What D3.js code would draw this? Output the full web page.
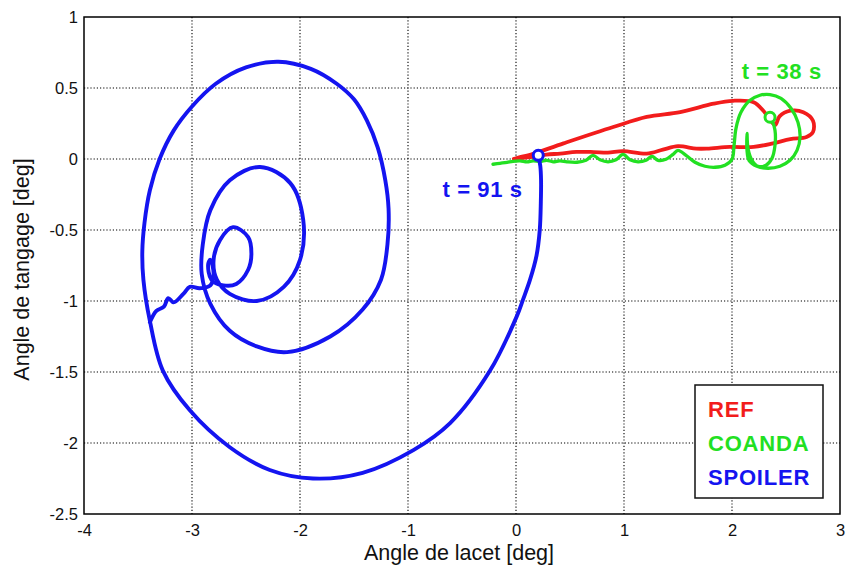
<!DOCTYPE html>
<html>
<head>
<meta charset="utf-8">
<script src="https://cdn.jsdelivr.net/npm/d3@7"></script>
<style>
  html, body { margin: 0; padding: 0; background: #fff; }
  svg { display: block; font-family: "Liberation Sans", Arial, sans-serif; }
</style>
</head>
<body>
<svg id="chart" width="846" height="576"></svg>
<script>
// ---------------- DATA ----------------
const xTicks = [-4, -3, -2, -1, 0, 1, 2, 3];
const xTickLabels = ["-4", "-3", "-2", "-1", "0", "1", "2", "3"];
const yTicks = [-2.5, -2, -1.5, -1, -0.5, 0, 0.5, 1];
const yTickLabels = ["-2.5", "-2", "-1.5", "-1", "-0.5", "0", "0.5", "1"];

const seriesNames = ["REF", "COANDA", "SPOILER"];
const seriesColors = ["#f21c1c", "#22e022", "#1414f0"];

// REF trajectory [lacet, tangage]
const refPath = [
  [-0.02,0.0],[0.03,0.012],[0.13,0.03],[0.44,0.11],[0.90,0.225],[1.21,0.296],[1.52,0.33],
  [1.83,0.39],[2.01,0.41],[2.20,0.40],[2.29,0.34],[2.35,0.28],[2.40,0.24],[2.44,0.30],
  [2.54,0.34],[2.66,0.33],[2.75,0.27],[2.75,0.19],[2.69,0.155],[2.54,0.14],[2.38,0.11],
  [2.20,0.085],[1.98,0.085],[1.77,0.073],[1.67,0.073],[1.50,0.09],[1.36,0.066],[1.21,0.038],
  [0.99,0.056],[0.85,0.045],[0.72,0.049],[0.56,0.05],[0.41,0.038],[0.28,0.031],[0.13,0.014],
  [0.03,0.005],[-0.02,0.0]
];

// COANDA trajectory
const coandaPath = [
  [-0.213,-0.037],[-0.148,-0.030],[-0.083,-0.023],[-0.028,-0.016],[0.037,-0.013],[0.102,-0.020],
  [0.157,-0.013],[0.222,-0.016],[0.287,-0.009],[0.343,-0.020],[0.407,-0.013],[0.472,-0.020],
  [0.565,-0.023],[0.648,-0.009],[0.713,0.026],[0.778,-0.006],[0.852,-0.020],[0.926,-0.006],
  [0.991,0.033],[1.056,-0.006],[1.130,-0.020],[1.204,-0.009],[1.259,0.019],[1.315,-0.009],
  [1.389,-0.002],[1.454,0.033],[1.50,0.061],[1.574,0.026],[1.657,-0.023],[1.75,-0.051],
  [1.843,-0.058],[1.935,-0.044],[2.0,-0.002],[2.019,0.096],[2.037,0.216],[2.083,0.329],
  [2.167,0.413],[2.259,0.449],[2.352,0.454],[2.454,0.427],[2.546,0.357],[2.611,0.258],
  [2.63,0.153],[2.602,0.061],[2.537,-0.009],[2.444,-0.051],[2.333,-0.065],[2.231,-0.051],
  [2.157,-0.009],[2.139,0.061],[2.139,0.181],[2.148,0.075],[2.185,-0.009],[2.241,-0.051],
  [2.315,-0.044],[2.370,0.005],[2.398,0.096],[2.398,0.202],[2.370,0.273],[2.352,0.294]
];

// SPOILER trajectory
const spoilerPath = [
  [0.206,0.026],[0.225,-0.05],[0.232,-0.15],[0.23,-0.3],[0.22,-0.5],[0.19,-0.68],[0.13,-0.85],
  [0.065,-0.99],[0.006,-1.11],[-0.24,-1.49],[-0.61,-1.86],[-0.95,-2.05],[-1.42,-2.21],[-1.88,-2.25],
  [-2.28,-2.19],[-2.65,-2.03],[-3.02,-1.77],[-3.27,-1.49],[-3.39,-1.14],[-3.45,-0.85],
  [-3.46,-0.65],[-3.44,-0.45],[-3.39,-0.22],[-3.30,0.0],[-3.17,0.20],[-3.0,0.37],[-2.78,0.53],
  [-2.5,0.645],[-2.2,0.685],[-1.9,0.635],[-1.66,0.53],[-1.5,0.42],[-1.38,0.27],[-1.28,0.08],
  [-1.21,-0.15],[-1.18,-0.35],[-1.19,-0.6],[-1.25,-0.85],[-1.42,-1.06],[-1.72,-1.25],
  [-2.12,-1.36],[-2.40,-1.32],[-2.65,-1.21],[-2.83,-1.02],
  [-2.91,-0.81],[-2.9,-0.6],[-2.83,-0.36],[-2.65,-0.15],[-2.37,-0.056],[-2.09,-0.17],
  [-1.97,-0.43],[-2.0,-0.71],[-2.15,-0.9],[-2.4,-1.0],[-2.65,-0.95],[-2.77,-0.85],[-2.8,-0.71],
  [-2.74,-0.57],[-2.62,-0.48],[-2.48,-0.55],[-2.45,-0.67],[-2.48,-0.78],[-2.59,-0.88],
  [-2.71,-0.89],[-2.82,-0.85],[-2.85,-0.74],[-2.83,-0.71],[-2.80,-0.81],[-2.83,-0.89],
  [-2.93,-0.91],[-3.02,-0.90],[-3.08,-0.95],[-3.17,-1.01],[-3.22,-0.98],[-3.26,-1.04],
  [-3.33,-1.07],[-3.39,-1.15]
];

// time markers and annotations
const markerPoints = [[0.206, 0.026], [2.352, 0.294]];
const markerSeries = [2, 1];
const annotationTexts = ["t = 91 s", "t = 38 s"];
const annotationPos = [[-0.68, -0.27], [2.09, 0.56]];
const annotationSeries = [2, 1];

const xTitle = "Angle de lacet [deg]";
const yTitle = "Angle de tangage [deg]";

// ---------------- CHART ----------------
const W = 846, H = 576;
const plot = { left: 84, right: 840, top: 17, bottom: 514 };
const svg = d3.select("#chart");

const x = d3.scaleLinear().domain([-4, 3]).range([plot.left, plot.right]);
const y = d3.scaleLinear().domain([-2.5, 1]).range([plot.bottom, plot.top]);

svg.append("rect").attr("width", W).attr("height", H).attr("fill", "#fff");

// grid
const grid = svg.append("g");
grid.selectAll("line.vx").data(xTicks.slice(1, -1)).join("line")
  .attr("x1", d => x(d)).attr("x2", d => x(d))
  .attr("y1", plot.top).attr("y2", plot.bottom)
  .attr("stroke", "#000").attr("stroke-width", 1.1).attr("stroke-dasharray", "1.2,2");
grid.selectAll("line.hy").data(yTicks.slice(1, -1)).join("line")
  .attr("y1", d => y(d)).attr("y2", d => y(d))
  .attr("x1", plot.left).attr("x2", plot.right)
  .attr("stroke", "#000").attr("stroke-width", 1.1).attr("stroke-dasharray", "1.2,2");

// axes
const xAxis = d3.axisBottom(x).tickValues(xTicks)
  .tickFormat((d, i) => xTickLabels[i]).tickSize(0).tickPadding(10);
const gx = svg.append("g").attr("transform", `translate(0,${plot.bottom})`).call(xAxis);
gx.select(".domain").remove();
gx.selectAll("text").attr("font-size", 16.5).attr("fill", "#111")
  .attr("font-family", "'Liberation Sans', Arial, sans-serif");

const yAxis = d3.axisLeft(y).tickValues(yTicks)
  .tickFormat((d, i) => yTickLabels[i]).tickSize(0).tickPadding(6);
const gy = svg.append("g").attr("transform", `translate(${plot.left},0)`).call(yAxis);
gy.select(".domain").remove();
gy.selectAll("text").attr("font-size", 16.5).attr("fill", "#111")
  .attr("font-family", "'Liberation Sans', Arial, sans-serif");

// lines
const line = d3.line().x(d => x(d[0])).y(d => y(d[1])).curve(d3.curveCatmullRom.alpha(0.5));
const paths = [refPath, coandaPath, spoilerPath];
const widths = [3.8, 3.3, 3.9];
svg.append("g").selectAll("path").data(paths).join("path")
  .attr("d", d => line(d))
  .attr("fill", "none")
  .attr("stroke", (d, i) => seriesColors[i])
  .attr("stroke-width", (d, i) => widths[i])
  .attr("stroke-linejoin", "round").attr("stroke-linecap", "round");

// markers
svg.append("g").selectAll("circle").data(markerPoints).join("circle")
  .attr("cx", d => x(d[0])).attr("cy", d => y(d[1])).attr("r", 5)
  .attr("fill", "#fff").attr("stroke", (d, i) => seriesColors[markerSeries[i]])
  .attr("stroke-width", 3);

// annotations
svg.append("g").selectAll("text").data(annotationTexts).join("text")
  .attr("x", (d, i) => x(annotationPos[i][0])).attr("y", (d, i) => y(annotationPos[i][1]))
  .attr("fill", (d, i) => seriesColors[annotationSeries[i]])
  .attr("font-size", 22).attr("font-weight", "bold").attr("letter-spacing", 0.6)
  .text(d => d);

// frame
svg.append("rect").attr("x", plot.left).attr("y", plot.top)
  .attr("width", plot.right - plot.left).attr("height", plot.bottom - plot.top)
  .attr("fill", "none").attr("stroke", "#000").attr("stroke-width", 1.5);

// legend
const lg = svg.append("g");
lg.append("rect").attr("x", 695).attr("y", 385).attr("width", 128).attr("height", 113)
  .attr("fill", "#fff").attr("stroke", "#111").attr("stroke-width", 1.5);
lg.selectAll("text").data(seriesNames).join("text")
  .attr("x", 708).attr("y", (d, i) => 417 + i * 34)
  .attr("fill", (d, i) => seriesColors[i])
  .attr("font-size", 22).attr("font-weight", "bold").attr("letter-spacing", 0.8)
  .text(d => d);

// titles
svg.append("text").attr("x", (plot.left + plot.right) / 2 - 3).attr("y", 560)
  .attr("text-anchor", "middle").attr("font-size", 21.5).attr("fill", "#111").text(xTitle);
svg.append("text").attr("transform", `translate(29,${(plot.top + plot.bottom) / 2 + 4}) rotate(-90)`)
  .attr("text-anchor", "middle").attr("font-size", 21.5).attr("fill", "#111").text(yTitle);
</script>
</body>
</html>
